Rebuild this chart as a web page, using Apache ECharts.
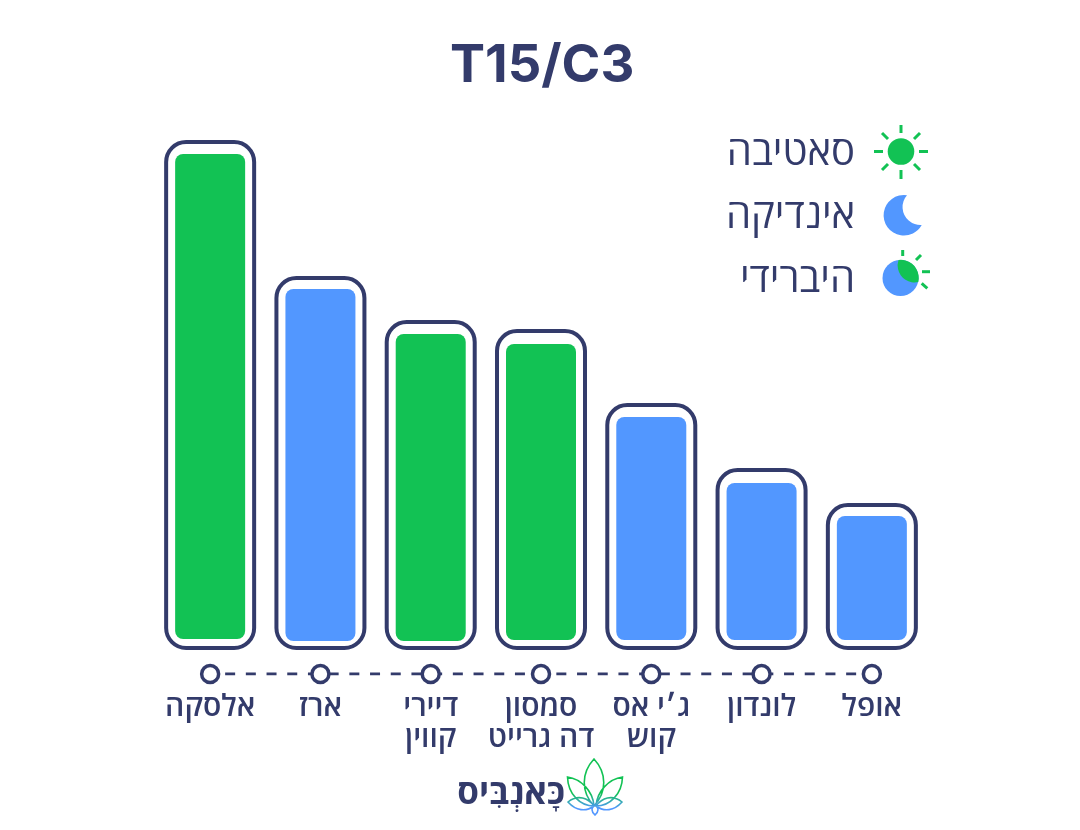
<!DOCTYPE html>
<html>
<head>
<meta charset="UTF-8">
<title>T15/C3</title>
<script src="https://cdn.jsdelivr.net/npm/echarts@6/dist/echarts.min.js"></script>
<style>
html, body { margin: 0; padding: 0; background: #fff; }
</style>
</head>
<body>
<div id="main" style="width:1080px;height:830px;"></div>
<script>
var titleText = 'T15/C3';
var categories = ['אלסקה', 'ארז', 'דיירי\nקווין', 'סמסון\nדה גרייט', 'ג׳י אס\nקוש', 'לונדון', 'אופל'];
var frameValues = [510, 374, 330, 321, 247, 182, 147];
var fillBase = [11, 9, 9, 10, 10, 10, 10];
var fillValues = [485, 352, 307, 296, 223, 157, 124];
var kinds = ['sativa', 'indica', 'sativa', 'sativa', 'indica', 'indica', 'indica'];
var railValues = [-24, -24, -24, -24, -24, -24, -24];
var legendNames = ['סאטיבה', 'אינדיקה', 'היברידי'];
var logoText = 'כָּאנְבִּיס';

var GREEN = '#12c254', BLUE = '#5297ff', DARK = '#333b6b';
var FONT = '"Open Sans", "Liberation Sans", "DejaVu Sans", sans-serif';
var kindColor = { sativa: GREEN, indica: BLUE };

// the graphic component only knows registered shapes, so icons go in as named paths
echarts.graphic.registerShape('moonIcon', echarts.graphic.extendPath('M907 195.2A20.3 20.3 0 1 0 921.7 225A18 18 0 0 1 907 195.2Z', {}));
echarts.graphic.registerShape('hybridIcon', echarts.graphic.extendPath('M898.5 260A18 18 0 0 1 918.3 282A17 17 0 0 1 898.5 260Z', {}));
echarts.graphic.registerShape('leafIcon', echarts.graphic.extendPath(
    'M594 759C581 773 581 792 594 806C607 792 607 773 594 759Z' +
    'M567.5 777C568 794 580 806 594 806C593 791 581 779 567.5 777Z' +
    'M622.5 777C622 794 610 806 596 806C597 791 609 779 622.5 777Z' +
    'M568 802C578 794 588 798 594 806C586 812 576 811 568 802Z' +
    'M622 802C612 794 602 798 596 806C604 812 614 811 622 802Z' +
    'M595 815C591 811 591 808 595 805C599 808 599 811 595 815Z', {}));

var myChart = echarts.init(document.getElementById('main'));

function ray(x1, y1, x2, y2) {
    return {
        type: 'line',
        shape: { x1: x1, y1: y1, x2: x2, y2: y2 },
        style: { stroke: GREEN, lineWidth: 3 }
    };
}

function legendText(name, y) {
    return {
        type: 'text',
        x: 855,
        y: y,
        style: { text: name, fill: DARK, font: '400 40px ' + FONT, align: 'right', verticalAlign: 'middle' }
    };
}

var leafGradient = new echarts.graphic.LinearGradient(0, 0, 0, 1, [
    { offset: 0, color: GREEN },
    { offset: 0.6, color: GREEN },
    { offset: 0.85, color: BLUE },
    { offset: 1, color: BLUE }
]);

var decorations = [
    legendText(legendNames[0], 154),
    legendText(legendNames[1], 217),
    legendText(legendNames[2], 281),
    // sun
    { type: 'circle', shape: { cx: 901, cy: 151.5, r: 13.3 }, style: { fill: GREEN } },
    ray(901, 125, 901, 133), ray(901, 170, 901, 179),
    ray(874, 151.5, 883, 151.5), ray(919, 151.5, 928, 151.5),
    ray(882, 133, 888, 139), ray(920, 133, 914, 139),
    ray(882, 170, 888, 164), ray(920, 170, 914, 164),
    // moon
    { type: 'moonIcon', style: { fill: BLUE } },
    // hybrid
    { type: 'circle', shape: { cx: 900.5, cy: 278, r: 18 }, style: { fill: BLUE } },
    { type: 'hybridIcon', style: { fill: GREEN } },
    ray(902.7, 250, 902.7, 256), ray(916, 260, 921, 255),
    ray(922, 271.7, 930, 271.7), ray(921.7, 283.3, 927.3, 288.3),
    // logo
    {
        type: 'text',
        x: 565,
        y: 794,
        style: { text: logoText, fill: DARK, font: '700 35px "Open Sans", "DejaVu Sans", sans-serif', align: 'right', verticalAlign: 'middle' }
    },
    { type: 'leafIcon', style: { fill: 'none', stroke: leafGradient, lineWidth: 1.6 } }
];

var option = {
    backgroundColor: '#fff',
    animation: false,
    title: {
        text: titleText,
        left: 445,
        top: 35,
        textStyle: { color: DARK, fontFamily: 'Inter, Roboto, sans-serif', fontWeight: 700, fontSize: 52.5 }
    },
    grid: { left: 155, width: 772, top: 100, bottom: 156 },
    xAxis: [
        {
            type: 'category',
            data: categories,
            axisLine: { show: false },
            axisTick: { show: false },
            axisLabel: {
                interval: 0,
                margin: 18,
                color: DARK,
                fontFamily: FONT,
                fontWeight: 600,
                fontSize: 30,
                lineHeight: 31
            }
        },
        { type: 'category', data: categories, show: false }
    ],
    yAxis: { type: 'value', min: -24, max: 550, show: false, splitLine: { show: false } },
    series: [
        {
            name: 'frame',
            type: 'bar',
            xAxisIndex: 0,
            barWidth: 92,
            data: frameValues,
            itemStyle: { color: '#fff', borderColor: DARK, borderWidth: 4, borderRadius: 20 },
            z: 2
        },
        {
            name: 'base',
            type: 'bar',
            xAxisIndex: 1,
            stack: 'fill',
            barWidth: 70,
            data: fillBase,
            itemStyle: { color: 'transparent' },
            z: 3
        },
        {
            name: 'fill',
            type: 'bar',
            xAxisIndex: 1,
            stack: 'fill',
            barWidth: 70,
            data: fillValues,
            itemStyle: {
                borderRadius: 8,
                color: function (p) { return kindColor[kinds[p.dataIndex]]; }
            },
            z: 3
        },
        {
            name: 'rail',
            type: 'line',
            xAxisIndex: 0,
            data: railValues,
            symbol: 'circle',
            symbolSize: 17,
            showSymbol: true,
            lineStyle: { color: DARK, width: 3, type: [10, 10.7], dashOffset: 5.7 },
            itemStyle: { color: '#fff', borderColor: DARK, borderWidth: 3.5 },
            z: 4
        }
    ],
    graphic: decorations
};

myChart.setOption(option);
</script>
</body>
</html>
